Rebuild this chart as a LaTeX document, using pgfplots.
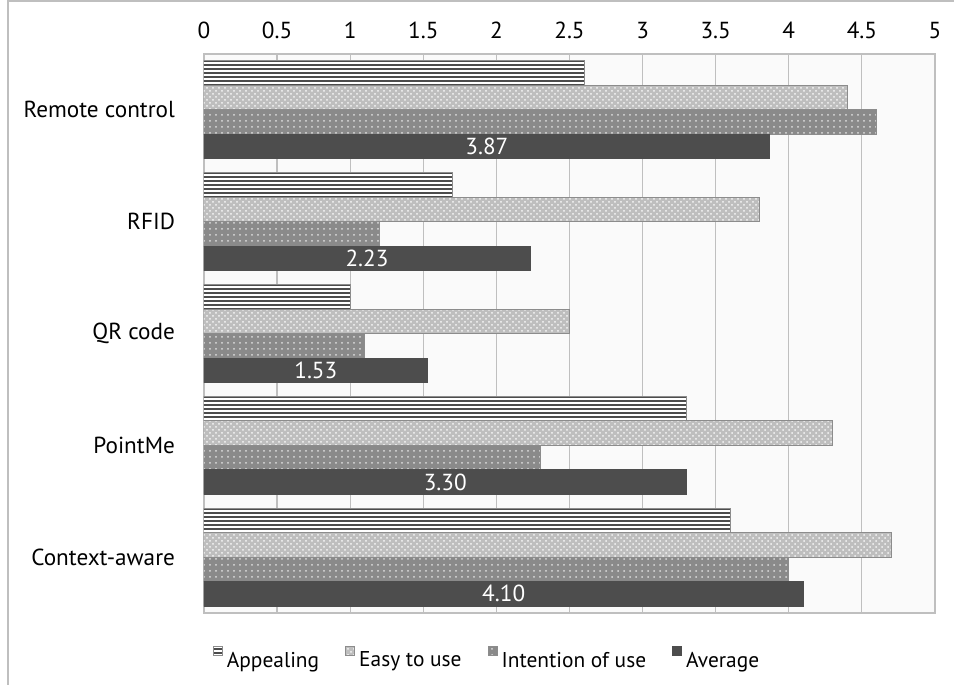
\documentclass[border=0pt]{standalone}
\usepackage{pgfplots}
\pgfplotsset{compat=1.18}
\usetikzlibrary{patterns,patterns.meta}
\usepackage{fontspec}
\setmainfont{PT Sans}
\definecolor{easy}{HTML}{BEBEBE}
\definecolor{intent}{HTML}{8A8A8A}
\definecolor{avg}{HTML}{4D4D4D}
\definecolor{edge}{HTML}{8C8C8C}
\definecolor{gridc}{HTML}{BFBFBF}
\pgfplotstableread{
idx appealing easy intention average
0 2.6 4.4 4.6 3.87
1 1.7 3.8 1.2 2.23
2 1.0 2.5 1.1 1.53
3 3.3 4.3 2.3 3.30
4 3.6 4.7 4.0 4.10
}\datatable
\begin{document}
\begin{tikzpicture}[font=\fontsize{11.6}{13}\selectfont]
\begin{axis}[
  at={(0pt,0pt)}, anchor=south west,
  scale only axis, width=365.5pt, height=279.5pt,
  xbar=0pt, bar width=12.25pt,
  xmin=0, xmax=5, ymin=-0.5, ymax=4.5,
  y dir=reverse,
  xtick distance=0.5,
  xticklabel pos=right,
  ytick={0,1,2,3,4},
  yticklabels={Remote control, RFID, QR code, PointMe, Context-aware},
  major tick length=0pt,
  xticklabel style={yshift=4pt},
  yticklabel style={xshift=-11pt},
  /pgf/number format/assume math mode=true,
  xmajorgrids, grid style={gridc, line width=0.6pt},
  axis line style={gridc, line width=0.8pt},
  axis background/.style={fill=black!2},
  legend style={at={(0.3885,-0.084)}, anchor=center, draw=none, fill=none,
    legend columns=4, font=\fontsize{10.7}{12}\selectfont,
    /tikz/every even column/.append style={column sep=11pt},
    legend cell align=left},
  legend image code/.code={\draw[#1, line width=0.4pt] (0pt,2.6pt) rectangle (4.6pt,7.4pt);},
  every axis plot/.append style={draw=edge, line width=0.5pt},
]
\addplot[fill=white, bar shift=18.375pt, postaction={pattern={Lines[angle=0, distance=2pt, line width=0.55pt]}, pattern color=black!70}] table[x=appealing, y=idx] {\datatable};
\addplot[fill=easy, bar shift=6.125pt, postaction={pattern=crosshatch dots, pattern color=white!85!easy}] table[x=easy, y=idx] {\datatable};
\addplot[fill=intent, bar shift=-6.125pt, postaction={pattern=dots, pattern color=white!70!intent}] table[x=intention, y=idx] {\datatable};
\addplot[fill=avg, draw=avg, bar shift=-18.375pt,
  nodes near coords={\pgfmathprintnumber[fixed,fixed zerofill,precision=2]{\pgfplotspointmeta}},
  point meta=x,
  visualization depends on={rawx \as \rawxval},
  every node near coord/.append style={anchor=center, text=white, font=\fontsize{11.6}{13}\selectfont, xshift={-\rawxval*36.55pt}}
] table[x=average, y=idx] {\datatable};
\legend{Appealing, Easy to use, Intention of use, Average}
\end{axis}
\pgfresetboundingbox
\useasboundingbox (-102pt,-36pt) rectangle (375pt,306.5pt);
\draw[gridc, line width=0.8pt] (-98pt,-40pt) -- (-98pt,306pt) -- (380pt,306pt);
\end{tikzpicture}
\end{document}
